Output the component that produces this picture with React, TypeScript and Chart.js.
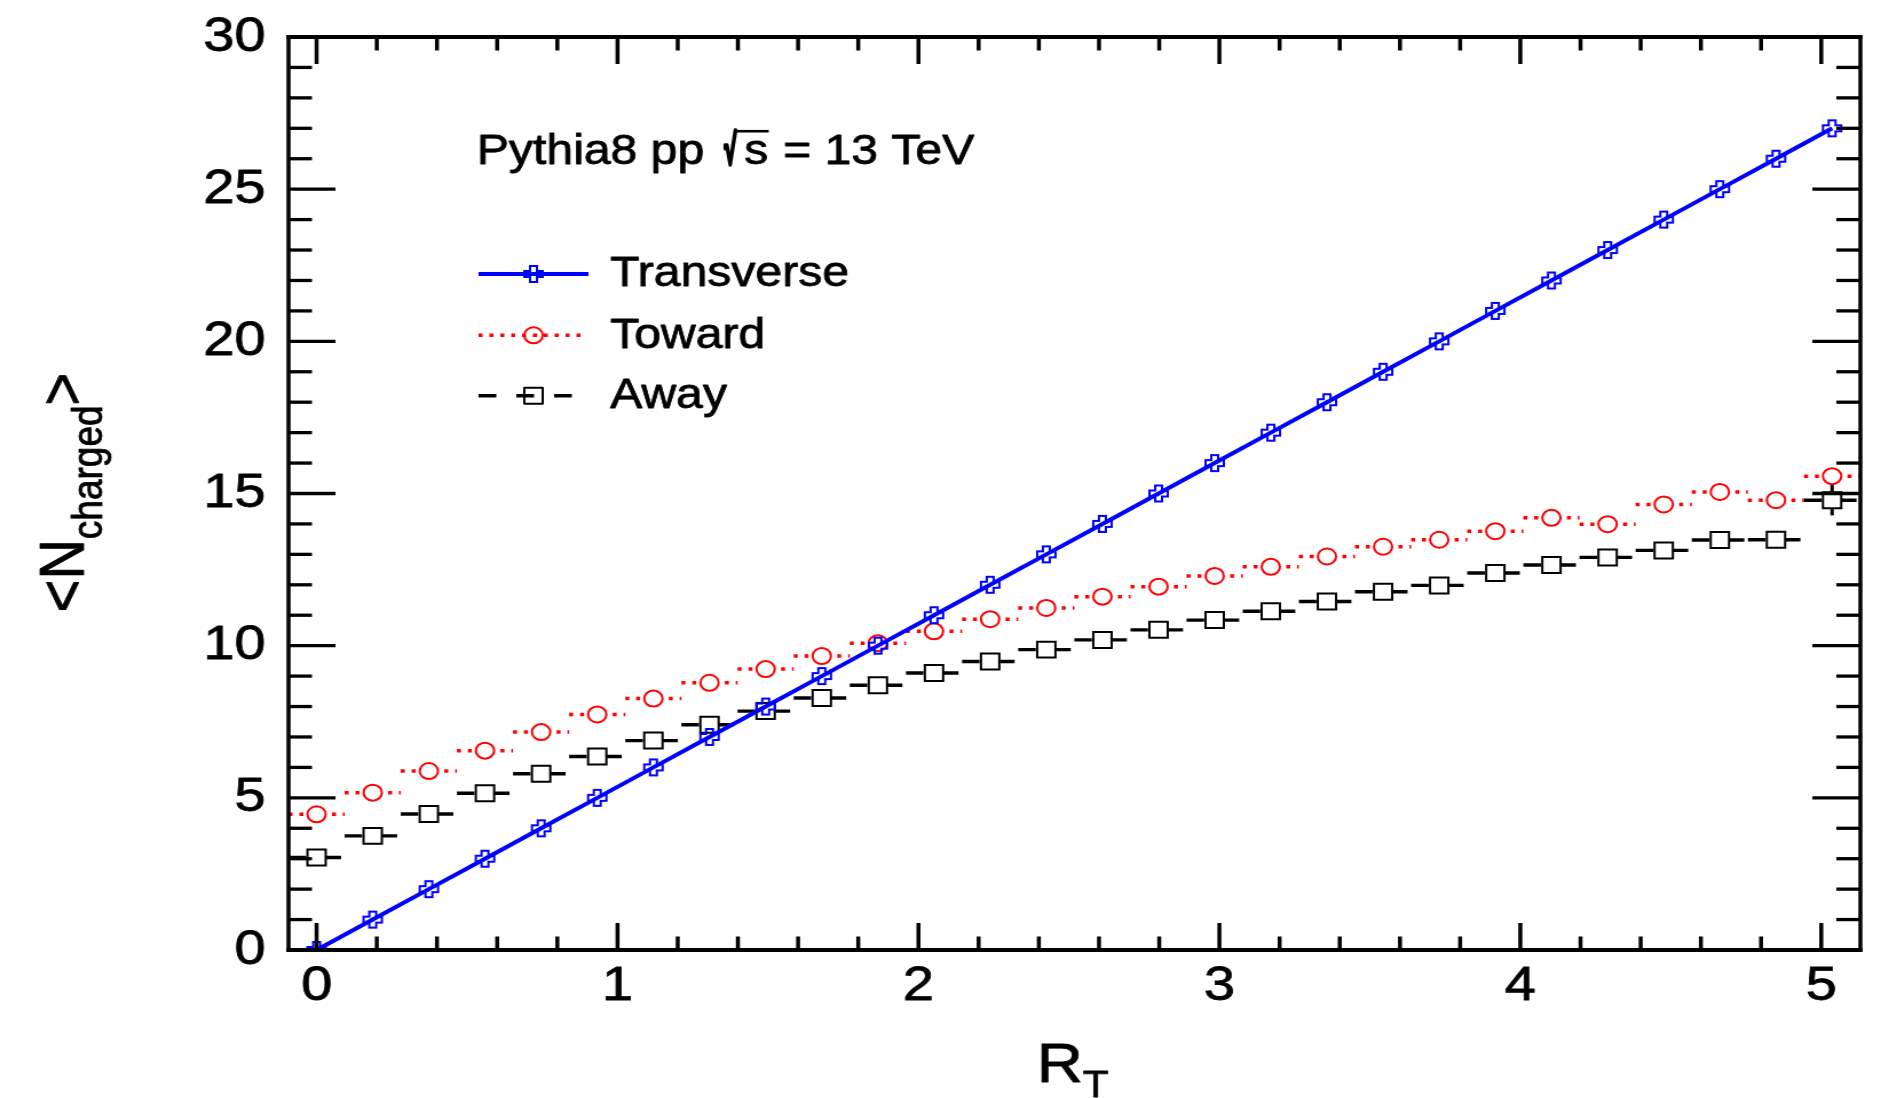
import { useEffect, useRef } from 'react';
import { Chart, registerables } from 'chart.js';

Chart.register(...registerables);

// ---------------- data ----------------
const rT = [
  0, 0.1865, 0.373, 0.5596, 0.7461, 0.9326, 1.1191, 1.3056, 1.4922, 1.6787,
  1.8652, 2.0517, 2.2382, 2.4248, 2.6113, 2.7978, 2.9843, 3.1708, 3.3574, 3.5439,
  3.7304, 3.9169, 4.1034, 4.29, 4.4765, 4.663, 4.8495, 5.036,
];
const transverse = [
  0, 1, 2, 3, 4, 5, 6, 7, 8, 9, 10, 11, 12, 13, 14, 15, 16, 17, 18, 19, 20, 21,
  22, 23, 24, 25, 26, 27,
];
const toward = [
  4.46, 5.17, 5.88, 6.55, 7.16, 7.74, 8.26, 8.78, 9.23, 9.66, 10.08, 10.47, 10.87,
  11.24, 11.61, 11.94, 12.29, 12.59, 12.93, 13.25, 13.48, 13.76, 14.2, 13.99, 14.64,
  15.05, 14.78, 15.57,
];
const away = [
  3.04, 3.75, 4.47, 5.15, 5.79, 6.36, 6.88, 7.4, 7.85, 8.28, 8.7, 9.1, 9.48, 9.87,
  10.19, 10.52, 10.84, 11.13, 11.45, 11.77, 11.98, 12.39, 12.65, 12.9, 13.13, 13.47,
  13.48, 14.78,
];
const awayErrY = [
  0, 0, 0, 0, 0, 0, 0, 0, 0, 0, 0, 0, 0, 0, 0, 0, 0, 0, 0, 0, 0, 0, 0, 0, 0, 0, 0, 0.5,
];
const binHalfWidth = 0.0933;
const xTickLabels = [0, 1, 2, 3, 4, 5];
const yTickLabels = [0, 5, 10, 15, 20, 25, 30];
const seriesNames = ['Transverse', 'Toward', 'Away'];
const xMin = -0.0933;
const xMax = 5.13;
const yMin = 0;
const yMax = 30;

// ---------------- styling ----------------
const FONT = '"Liberation Sans", Arial, Helvetica, sans-serif';
const LOGICAL_W = 1650;
const LOGICAL_H = 1098;
const SCREEN_W = 1889;
const AREA = { left: 252, right: 1625, top: 37, bottom: 950 };
const BLUE = '#0000ff';
const RED = '#ff0000';
const BLACK = '#000000';
const TEXT_STROKE = 0.8;

function makeOpenCross(color: string): HTMLCanvasElement {
  const c = document.createElement('canvas');
  c.width = 20;
  c.height = 20;
  const g = c.getContext('2d')!;
  const a = 8;
  const b = 3;
  const cx = 10;
  const cy = 10;
  const pts = [
    [-b, -a], [b, -a], [b, -b], [a, -b], [a, b], [b, b],
    [b, a], [-b, a], [-b, b], [-a, b], [-a, -b], [-b, -b],
  ];
  g.strokeStyle = color;
  g.lineWidth = 2;
  g.beginPath();
  pts.forEach(([x, y], i) => (i ? g.lineTo(cx + x, cy + y) : g.moveTo(cx + x, cy + y)));
  g.closePath();
  g.stroke();
  return c;
}

function seg(ctx: CanvasRenderingContext2D, x0: number, y0: number, x1: number, y1: number) {
  ctx.beginPath();
  ctx.moveTo(x0, y0);
  ctx.lineTo(x1, y1);
  ctx.stroke();
}

function text(ctx: CanvasRenderingContext2D, s: string, x: number, y: number) {
  ctx.fillText(s, x, y);
  ctx.strokeText(s, x, y);
}

const barsPlugin = {
  id: 'binBars',
  beforeDatasetsDraw(chart: any) {
    const { ctx, chartArea: a } = chart;
    const xs = chart.scales.x;
    const ys = chart.scales.y;
    ctx.save();
    ctx.beginPath();
    ctx.rect(a.left, a.top, a.right - a.left, a.bottom - a.top);
    ctx.clip();
    ctx.lineCap = 'butt';
    // Toward: dotted horizontal bin bars
    ctx.strokeStyle = RED;
    ctx.lineWidth = 3.5;
    ctx.setLineDash([3.5, 6]);
    toward.forEach((v, i) => {
      const y = ys.getPixelForValue(v);
      seg(ctx, xs.getPixelForValue(rT[i] - binHalfWidth), y, xs.getPixelForValue(rT[i] + binHalfWidth), y);
    });
    // Away: dashed horizontal bin bars
    ctx.strokeStyle = BLACK;
    ctx.lineWidth = 3.4;
    ctx.setLineDash([15.3, 15.3]);
    away.forEach((v, i) => {
      const y = ys.getPixelForValue(v);
      seg(ctx, xs.getPixelForValue(rT[i] - binHalfWidth), y, xs.getPixelForValue(rT[i] + binHalfWidth), y);
    });
    ctx.setLineDash([]);
    ctx.lineWidth = 3;
    away.forEach((v, i) => {
      const e = awayErrY[i];
      if (e > 0) {
        const x = xs.getPixelForValue(rT[i]);
        seg(ctx, x, ys.getPixelForValue(v + e), x, ys.getPixelForValue(v - e));
      }
    });
    ctx.restore();
  },
};

const framePlugin = {
  id: 'rootFrame',
  afterDatasetsDraw(chart: any) {
    const { ctx, chartArea: a } = chart;
    const xs = chart.scales.x;
    const ys = chart.scales.y;
    ctx.save();
    ctx.strokeStyle = BLACK;
    ctx.lineCap = 'butt';
    ctx.setLineDash([]);
    // x ticks (bottom & top), minor every 0.2
    ctx.lineWidth = 3.5;
    for (let k = 0; k <= 25; k++) {
      const v = k * 0.2;
      if (v < xMin || v > xMax) continue;
      const px = xs.getPixelForValue(v);
      const len = k % 5 === 0 ? 27 : 13.5;
      seg(ctx, px, a.bottom, px, a.bottom - len);
      seg(ctx, px, a.top, px, a.top + len);
    }
    // y ticks (left & right), minor every 1
    ctx.lineWidth = 3.3;
    for (let v = yMin; v <= yMax; v++) {
      const py = ys.getPixelForValue(v);
      const major = v % 5 === 0;
      seg(ctx, a.left, py, a.left + (major ? 41 : 20.5), py);
      seg(ctx, a.right, py, a.right - (major ? 42 : 21), py);
    }
    // frame
    ctx.lineWidth = 4;
    seg(ctx, a.left - 1.75, a.top, a.right + 1.75, a.top);
    seg(ctx, a.left - 1.75, a.bottom, a.right + 1.75, a.bottom);
    ctx.lineWidth = 3.5;
    seg(ctx, a.left, a.top - 2, a.left, a.bottom + 2);
    seg(ctx, a.right, a.top - 2, a.right, a.bottom + 2);
    ctx.restore();
  },
};

function makeTextPlugin(cross: HTMLCanvasElement) {
  return {
    id: 'rootText',
    afterDraw(chart: any) {
      const ctx: CanvasRenderingContext2D = chart.ctx;
      ctx.save();
      ctx.fillStyle = BLACK;
      ctx.strokeStyle = BLACK;
      ctx.lineWidth = TEXT_STROKE;
      ctx.lineJoin = 'round';
      ctx.textAlign = 'left';
      ctx.textBaseline = 'alphabetic';
      const big = `56px ${FONT}`;
      const small = `37px ${FONT}`;

      // y title  <N_charged>
      ctx.save();
      ctx.font = big;
      const wLt = ctx.measureText('<').width;
      const wN = ctx.measureText('N').width;
      const wGt = ctx.measureText('>').width;
      ctx.font = small;
      const wSub = ctx.measureText('charged').width;
      const total = wLt + wN + wSub + wGt;
      ctx.translate(72.5, 492.5);
      ctx.rotate(-Math.PI / 2);
      let x = -total / 2;
      ctx.font = big;
      text(ctx, '<', x, 0);
      x += wLt;
      text(ctx, 'N', x, 0);
      x += wN;
      ctx.font = small;
      text(ctx, 'charged', x, 16);
      x += wSub;
      ctx.font = big;
      text(ctx, '>', x, 0);
      ctx.restore();

      // x title R_T
      ctx.font = big;
      text(ctx, 'R', 905.4, 1082);
      const wR = ctx.measureText('R').width;
      ctx.font = small;
      text(ctx, 'T', 905.4 + wR, 1097);

      // header text  Pythia8 pp  √s = 13 TeV
      const f42 = `42px ${FONT}`;
      ctx.font = f42;
      text(ctx, 'Pythia8 pp', 416.6, 163.5);
      // radical sign, fitted into its box (x 633..643.5, y 130..165)
      const mr = ctx.measureText('√');
      const gw = mr.actualBoundingBoxLeft + mr.actualBoundingBoxRight;
      const gh = mr.actualBoundingBoxAscent + mr.actualBoundingBoxDescent;
      if (gw > 0 && gh > 0) {
        const sx = 10.5 / gw;
        const sy = 35 / gh;
        ctx.save();
        ctx.translate(633, 130);
        ctx.scale(sx, sy);
        ctx.lineWidth = 2.2 / sx;
        ctx.fillText('√', mr.actualBoundingBoxLeft, mr.actualBoundingBoxAscent);
        ctx.strokeText('√', mr.actualBoundingBoxLeft, mr.actualBoundingBoxAscent);
        ctx.restore();
      }
      text(ctx, 's', 650, 163.5);
      ctx.lineWidth = 2.6;
      seg(ctx, 642, 131.2, 671.5, 131.2);
      ctx.lineWidth = TEXT_STROKE;
      text(ctx, '= 13 TeV', 684, 163.5);

      // legend
      const lx0 = 418;
      const mx = 466;
      const rows = [274, 335.3, 395.7];
      const base = [286, 348.3, 408.3];
      ctx.lineCap = 'butt';
      // Transverse
      ctx.strokeStyle = BLUE;
      ctx.lineWidth = 4;
      ctx.setLineDash([]);
      seg(ctx, lx0, rows[0], 514, rows[0]);
      ctx.drawImage(cross, mx - cross.width / 2, rows[0] - cross.height / 2);
      // Toward
      ctx.strokeStyle = RED;
      ctx.lineWidth = 3.5;
      ctx.setLineDash([3.5, 6]);
      seg(ctx, lx0, rows[1], 509, rows[1]);
      ctx.setLineDash([]);
      ctx.lineWidth = 2;
      ctx.beginPath();
      ctx.arc(mx, rows[1], 8, 0, Math.PI * 2);
      ctx.stroke();
      // Away
      ctx.strokeStyle = BLACK;
      ctx.lineWidth = 3.4;
      ctx.setLineDash([15.5, 17.5]);
      seg(ctx, lx0, rows[2], 500, rows[2]);
      ctx.setLineDash([]);
      ctx.lineWidth = 2;
      ctx.strokeRect(mx - 8, rows[2] - 8, 16, 16);

      ctx.fillStyle = BLACK;
      ctx.strokeStyle = BLACK;
      ctx.lineWidth = TEXT_STROKE;
      ctx.font = f42;
      seriesNames.forEach((n, i) => text(ctx, n, 533, base[i]));
      ctx.restore();
    },
  };
}

export default function App() {
  const ref = useRef<HTMLCanvasElement>(null);

  useEffect(() => {
    const canvas = ref.current;
    if (!canvas) return;
    document.body.style.margin = '0';
    const cross = makeOpenCross(BLUE);

    const chart = new Chart(canvas, {
      type: 'scatter',
      data: {
        datasets: [
          {
            label: seriesNames[0],
            data: rT.map((x, i) => ({ x, y: transverse[i] })),
            showLine: true,
            borderColor: BLUE,
            backgroundColor: BLUE,
            borderWidth: 4,
            pointStyle: cross as any,
            pointRadius: 8,
            tension: 0,
          },
          {
            label: seriesNames[1],
            data: rT.map((x, i) => ({ x, y: toward[i] })),
            showLine: false,
            borderColor: RED,
            backgroundColor: '#ffffff',
            pointStyle: 'circle',
            pointRadius: 8,
            pointBorderWidth: 2,
            pointBorderColor: RED,
            pointBackgroundColor: '#ffffff',
          },
          {
            label: seriesNames[2],
            data: rT.map((x, i) => ({ x, y: away[i] })),
            showLine: false,
            borderColor: BLACK,
            backgroundColor: '#ffffff',
            pointStyle: 'rect',
            pointRadius: 11.31,
            pointBorderWidth: 2,
            pointBorderColor: BLACK,
            pointBackgroundColor: '#ffffff',
          },
        ],
      },
      options: {
        responsive: false,
        devicePixelRatio: 1,
        animation: false,
        events: [],
        layout: {
          padding: { left: 0, top: AREA.top, right: LOGICAL_W - AREA.right, bottom: 0 },
        },
        plugins: {
          legend: { display: false },
          tooltip: { enabled: false },
          title: { display: false },
        },
        scales: {
          x: {
            type: 'linear',
            position: 'bottom',
            min: xMin,
            max: xMax,
            afterBuildTicks: (s: any) => {
              s.ticks = xTickLabels.map((v) => ({ value: v }));
            },
            afterFit: (s: any) => {
              s.height = LOGICAL_H - AREA.bottom;
              s.paddingLeft = 0;
              s.paddingRight = 0;
            },
            grid: { display: false, drawTicks: false },
            border: { display: false },
            ticks: {
              color: BLACK,
              padding: 7,
              maxRotation: 0,
              autoSkip: false,
              textStrokeColor: BLACK,
              textStrokeWidth: TEXT_STROKE,
              font: { family: FONT, size: 49, lineHeight: 1.2 },
              callback: (v: any) => String(v),
            },
          },
          y: {
            type: 'linear',
            position: 'left',
            min: yMin,
            max: yMax,
            afterBuildTicks: (s: any) => {
              s.ticks = yTickLabels.map((v) => ({ value: v }));
            },
            afterFit: (s: any) => {
              s.width = AREA.left;
              s.paddingTop = 0;
              s.paddingBottom = 0;
            },
            grid: { display: false, drawTicks: false },
            border: { display: false },
            ticks: {
              color: BLACK,
              padding: 20,
              autoSkip: false,
              textStrokeColor: BLACK,
              textStrokeWidth: TEXT_STROKE,
              font: { family: FONT, size: 49, lineHeight: 1.2 },
              callback: (v: any) => String(v),
            },
          },
        },
      },
      plugins: [barsPlugin, framePlugin, makeTextPlugin(cross)],
    } as any);

    return () => chart.destroy();
  }, []);

  return (
    <div
      style={{
        position: 'fixed',
        left: 0,
        top: 0,
        width: SCREEN_W,
        height: LOGICAL_H,
        background: '#ffffff',
        overflow: 'hidden',
      }}
    >
      <canvas
        ref={ref}
        width={LOGICAL_W}
        height={LOGICAL_H}
        style={{ width: SCREEN_W + 'px', height: LOGICAL_H + 'px', display: 'block' }}
      />
    </div>
  );
}
